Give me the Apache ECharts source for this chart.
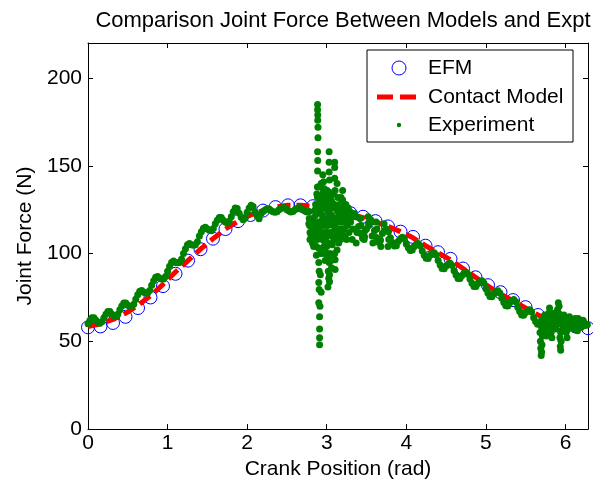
<!DOCTYPE html>
<html>
<head>
<meta charset="utf-8">
<script src="https://cdn.jsdelivr.net/npm/echarts@6/dist/echarts.min.js"></script>
<style>html,body{margin:0;padding:0;background:#fff}#c{width:593px;height:485px}</style>
</head>
<body>
<div id="c"></div>
<script>
// ---------- data ----------
const titleText = 'Comparison Joint Force Between Models and Expt';
const xName = 'Crank Position (rad)';
const yName = 'Joint Force (N)';
const xTickLabels = ['0', '1', '2', '3', '4', '5', '6'];
const yTickLabels = ['0', '50', '100', '150', '200'];
const seriesNames = ['EFM', 'Contact Model', 'Experiment'];

// model curves sampled every pi/20 rad from 0 to 2*pi (41 samples)
const modelSamples = 40;
const efmForce = [58, 58.5, 60.5, 64, 69, 75, 81.5, 88.5, 96, 102.5, 108.5, 114, 118.5, 122, 124.5, 126.5, 127.5, 127.5, 127, 126,
  124.5, 123, 121, 118.5, 115.5, 112.5, 109.5, 104.5, 100.8, 97, 91.5, 86.5, 82, 78, 73.5, 69.5, 65, 62, 60, 58.5, 57.5];
const contactForce = [58.5, 60, 62.5, 66, 70.5, 76, 82.5, 89.5, 96, 102.5, 108.5, 114, 118.5, 122, 124.5, 126.5, 127.5, 127.5, 127, 126,
  124.5, 122.5, 120.5, 118, 115.5, 112.5, 109, 104.5, 100.5, 96.5, 91.5, 86.5, 81.5, 77, 73, 69, 65, 62, 60, 58.5, 58];

// experiment, sampled every 0.025 rad from 0
const expStep = 0.025;
const expForce = [
  60, 62, 63.5, 63.5, 62, 60.9, 60.3, 61.1, 63.5, 65.5, 67, 67, 65.5, 64.6, 64.3, 65.4, 68, 70.1, 71.8, 71.9,
  70.5, 69.9, 69.8, 71.1, 74, 76.5, 78.5, 79, 78, 77.5, 77.5, 79, 82, 84.5, 86.5, 87, 86, 85.5, 85.5, 87,
  90, 92.8, 95, 95.8, 95, 94.8, 95, 96.8, 100, 102.8, 105, 105.8, 105, 104.8, 105, 106.8, 110, 112.5, 114.5, 115,
  114, 113.3, 113, 114.3, 117, 119, 120.5, 120.5, 119, 118, 117.5, 118.5, 121, 123.9, 126, 125.7, 123, 120.7, 119.3, 120.2,
  123.5, 126, 127.6, 126.9, 123.75, 121.4, 119.9, 122.9, 124, 124.9, 125.5, 125.4, 124.5, 123.9, 123.5, 123.9, 125, 125.75, 126.25, 126,
  125, 124.25, 123.75, 124, 125, 125.75, 126.25, 126, 125, 124.25, 123.75, 117, 111, 109, 108, 110, 113, 117, 120, 116,
  112, 118, 122, 117, 113, 119, 123, 118, 114, 121, 124, 119, 118, 121, 122.8, 120.9, 115.5, 111.5, 108.8, 109.6,
  114, 117.4, 119.5, 118, 113, 109.2, 106.5, 107.5, 111.5, 113, 114, 112.5, 109, 106.3, 104.3, 104.5, 107, 108.4, 109.3, 108.3,
  105.5, 103.3, 101.8, 102, 104, 105.2, 105.8, 104.5, 101.5, 99.1, 97.3, 97.2, 99, 100, 100.5, 99.2, 96, 93.5, 91.5, 91.4,
  93, 94, 94.5, 93.2, 90.2, 87.8, 85.8, 85.8, 87.5, 88.8, 89.4, 88.2, 85.5, 83.1, 81.3, 81.2, 83, 84, 84.5, 83.2,
  80, 77.5, 75.5, 75.4, 77, 78.2, 78.8, 77.5, 74.5, 72.1, 70.3, 70.2, 72, 73.2, 73.8, 72.5, 69.5, 67, 65, 64.9,
  66.5, 67.5, 68, 66.7, 63.5, 61.3, 59.8, 60, 62, 63, 60, 58, 61, 63, 59, 57, 60, 64, 61, 57,
  59, 62, 60, 58, 60, 61.5, 60, 59, 60.5, 61.5, 60, 59.5
];
// scattered experiment samples in the impact region
const expImpact = [
  [2.78, 124], [2.78, 120], [2.785, 116], [2.79, 112], [2.79, 108], [2.82, 106], [2.83, 113], [2.84, 118], [2.845, 108],
  [2.86, 122], [2.86, 128], [2.865, 115], [2.87, 104], [2.87, 99],
  [2.885, 185], [2.885, 182], [2.887, 179], [2.887, 176], [2.89, 172], [2.89, 166], [2.885, 158], [2.887, 153], [2.885, 147],
  [2.883, 138], [2.885, 132], [2.89, 125], [2.89, 118], [2.895, 110], [2.9, 103], [2.9, 95], [2.905, 90], [2.9, 83.5],
  [2.905, 79.5], [2.9, 72], [2.91, 64], [2.91, 57], [2.91, 52], [2.91, 48],
  [2.93, 140], [2.935, 132], [2.94, 126], [2.94, 116], [2.945, 108], [2.95, 100],
  [2.97, 137], [2.97, 133], [2.975, 129], [2.975, 107], [2.98, 101], [2.98, 96],
  [3.0, 120], [3.0, 112], [3.01, 125], [3.0, 104],
  [3.03, 158], [3.03, 152], [3.03, 146.5], [3.035, 142], [3.03, 135], [3.035, 128], [3.04, 118], [3.03, 95], [3.035, 88], [3.035, 84], [3.04, 100],
  [3.06, 130], [3.06, 122], [3.065, 110], [3.07, 105],
  [3.1, 152], [3.1, 149], [3.1, 143], [3.105, 136], [3.1, 128], [3.1, 100], [3.105, 96.5], [3.105, 91], [3.11, 115], [3.11, 120],
  [3.14, 132], [3.14, 124], [3.145, 112], [3.15, 106],
  [3.2, 136], [3.2, 130.5], [3.205, 125], [3.2, 113.5], [3.2, 110], [3.21, 120],
  [3.24, 128], [3.25, 122], [3.25, 108], [3.27, 126], [3.28, 112],
  [2.81, 115], [2.815, 110], [2.825, 120], [2.835, 104], [2.85, 112], [2.855, 125], [2.875, 118], [2.875, 134], [2.88, 108],
  [2.895, 128], [2.9, 138], [2.905, 116], [2.915, 124], [2.92, 110], [2.92, 131], [2.925, 100], [2.93, 118], [2.945, 122],
  [2.955, 135], [2.96, 112], [2.965, 126], [2.965, 104], [2.985, 118], [2.99, 130], [2.99, 109], [3.005, 136], [3.01, 98],
  [3.015, 116], [3.02, 124], [3.02, 106], [3.045, 132], [3.05, 112], [3.05, 120], [3.055, 96], [3.075, 126], [3.08, 116],
  [3.085, 134], [3.09, 108], [3.115, 126], [3.12, 110], [3.125, 118], [3.13, 140], [3.13, 102], [3.155, 120], [3.16, 128],
  [3.165, 114], [3.17, 122], [3.175, 108], [3.18, 132], [3.185, 118], [3.19, 126], [3.215, 114], [3.22, 128], [3.225, 118],
  [3.23, 110], [3.235, 124], [3.26, 116], [3.265, 120], [3.285, 118], [3.29, 124],
  [2.92, 88], [2.93, 78], [2.915, 70], [3.02, 90], [3.06, 92], [3.09, 97], [2.95, 145], [2.96, 141], [3.015, 81], [3.025, 86],
  [3.32, 108], [3.33, 114], [3.37, 106], [3.38, 112], [3.42, 120], [3.43, 116], [3.47, 108], [3.48, 113], [3.52, 121],
  [3.53, 116], [3.57, 110], [3.58, 106], [3.62, 118], [3.63, 114], [3.67, 108], [3.68, 104], [3.72, 117], [3.77, 104], [3.78, 108]
];
// scattered experiment samples near the end of the cycle
const expTail = [
  [5.68, 55], [5.685, 50], [5.69, 46], [5.695, 42], [5.70, 44], [5.705, 48], [5.71, 53],
  [5.74, 65], [5.75, 56], [5.76, 53],
  [5.79, 66], [5.80, 69], [5.81, 64], [5.82, 55], [5.83, 52], [5.84, 58], [5.85, 66],
  [5.88, 63], [5.90, 68], [5.91, 72], [5.92, 70], [5.925, 60], [5.93, 52], [5.935, 47], [5.94, 45], [5.945, 50], [5.95, 56],
  [5.98, 65], [6.0, 63], [6.01, 55], [6.02, 52], [6.03, 57],
  [6.08, 62], [6.1, 57], [6.12, 63], [6.15, 56], [6.18, 62],
  [5.70, 58], [5.72, 60], [5.73, 63], [5.77, 59], [5.78, 62], [5.86, 61], [5.87, 58], [5.89, 65], [5.96, 62], [5.97, 58],
  [6.04, 61], [6.05, 64], [6.06, 59], [6.13, 60], [6.16, 63], [6.2, 58], [6.22, 62], [6.25, 59], [5.915, 66], [5.905, 64],
  [5.94, 55], [5.945, 62]
];

// ---------- build chart ----------
const TWO_PI = 2 * Math.PI;
const modelX = k => TWO_PI * k / modelSamples;
const efmData = efmForce.map((v, k) => [modelX(k), v]);
const contactData = contactForce.map((v, k) => [modelX(k), v]);
const expData = expForce.map((v, i) => [i * expStep, v]).concat(expImpact, expTail);

const FONT = 'Arial, "Liberation Sans", Helvetica, sans-serif';
const chart = echarts.init(document.getElementById('c'), null, { renderer: 'canvas' });

const axisCommon = {
  axisLine: { show: true, onZero: false, lineStyle: { color: '#000', width: 1 } },
  axisTick: { show: true, inside: true, length: 5, lineStyle: { color: '#000', width: 1 } },
  splitLine: { show: false }
};

chart.setOption({
  animation: false,
  backgroundColor: '#fff',
  title: {
    text: titleText,
    left: 338, top: 5, textAlign: 'center',
    textStyle: { fontFamily: FONT, fontSize: 22, fontWeight: 'normal', color: '#000' }
  },
  grid: { left: 88, right: 5, top: 43, bottom: 54 },
  xAxis: [
    Object.assign({
      type: 'value', min: 0, max: TWO_PI, interval: 1, position: 'bottom',
      name: xName, nameLocation: 'middle', nameGap: 28,
      nameTextStyle: { fontFamily: FONT, fontSize: 21, color: '#000' },
      axisLabel: {
        show: true, margin: 4, fontFamily: FONT, fontSize: 21, color: '#000', showMaxLabel: false,
        formatter: v => xTickLabels[Math.round(v)] !== undefined && Math.abs(v - Math.round(v)) < 1e-6 ? xTickLabels[Math.round(v)] : ''
      }
    }, axisCommon),
    Object.assign({
      type: 'value', min: 0, max: TWO_PI, interval: 1, position: 'top',
      axisLabel: { show: false }
    }, axisCommon)
  ],
  yAxis: [
    Object.assign({
      type: 'value', min: 0, max: 220, interval: 50, position: 'left',
      name: yName, nameLocation: 'middle', nameGap: 44,
      nameTextStyle: { fontFamily: FONT, fontSize: 21, color: '#000' },
      axisLabel: {
        show: true, margin: 6, fontFamily: FONT, fontSize: 21, color: '#000', showMaxLabel: false,
        formatter: v => { const i = Math.round(v / 50); return (Math.abs(v - i * 50) < 1e-6 && yTickLabels[i] !== undefined) ? yTickLabels[i] : ''; }
      }
    }, axisCommon),
    Object.assign({
      type: 'value', min: 0, max: 220, interval: 50, position: 'right',
      axisLabel: { show: false }
    }, axisCommon)
  ],
  series: [
    {
      name: seriesNames[0], type: 'scatter', data: efmData, symbol: 'circle', symbolSize: 13,
      itemStyle: { color: 'rgba(0,0,0,0)', borderColor: '#0000ff', borderWidth: 1, opacity: 1 },
      z: 2, silent: true
    },
    {
      name: seriesNames[1], type: 'line', data: contactData, showSymbol: false, symbol: 'none',
      lineStyle: { color: '#ff0000', width: 5, type: [13, 6] },
      z: 3, silent: true
    },
    {
      name: seriesNames[2], type: 'scatter', data: expData, symbol: 'circle', symbolSize: 7,
      itemStyle: { color: '#008000', opacity: 1 }, z: 4, silent: true, large: false
    }
  ],
  graphic: [
    { type: 'rect', shape: { x: 367, y: 50, width: 206, height: 92 }, style: { fill: '#fff', stroke: '#000', lineWidth: 1 }, z: 100 },
    { type: 'circle', shape: { cx: 399, cy: 68, r: 7 }, style: { fill: 'none', stroke: '#0000ff', lineWidth: 1 }, z: 101 },
    { type: 'line', shape: { x1: 377, y1: 97, x2: 417, y2: 97 }, style: { stroke: '#ff0000', lineWidth: 5, lineDash: [16, 7] }, z: 101 },
    { type: 'circle', shape: { cx: 399, cy: 125, r: 2.2 }, style: { fill: '#008000' }, z: 101 },
    { type: 'text', x: 428, y: 68, style: { text: seriesNames[0], font: '21px ' + FONT, fill: '#000', verticalAlign: 'middle' }, z: 101 },
    { type: 'text', x: 428, y: 97, style: { text: seriesNames[1], font: '21px ' + FONT, fill: '#000', verticalAlign: 'middle' }, z: 101 },
    { type: 'text', x: 428, y: 125, style: { text: seriesNames[2], font: '21px ' + FONT, fill: '#000', verticalAlign: 'middle' }, z: 101 }
  ]
});
</script>
</body>
</html>
